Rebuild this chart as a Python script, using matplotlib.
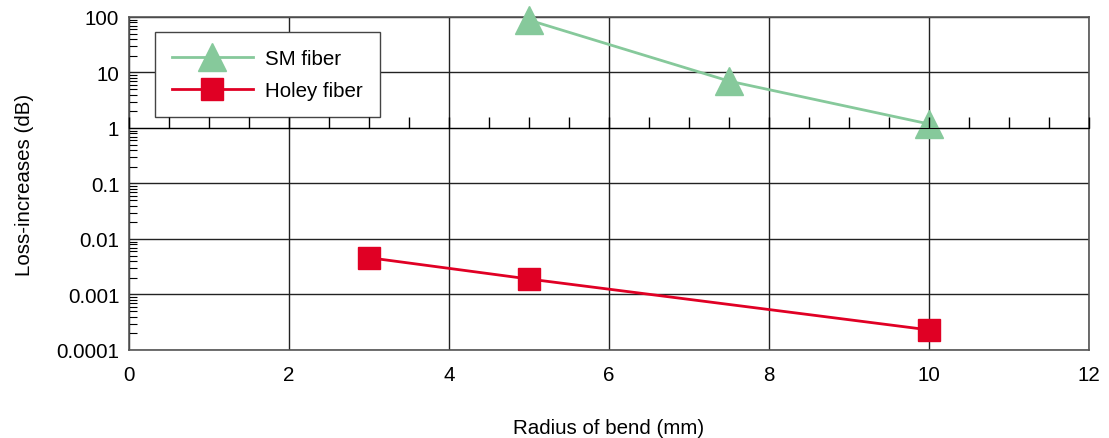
import numpy as np
import matplotlib.pyplot as plt
from matplotlib.ticker import MultipleLocator, LogLocator, NullFormatter

plt.rcParams['font.family'] = ['Liberation Sans', 'DejaVu Sans']

# data
sm_radius = [5, 7.5, 10]
sm_loss = [88, 7.0, 1.18]
holey_radius = [3, 5, 10]
holey_loss = [0.0046, 0.0019, 0.00023]

y_ticks = [1e-4, 1e-3, 1e-2, 1e-1, 1, 10, 100]
y_labels = ['0.0001', '0.001', '0.01', '0.1', '1', '10', '100']

fs = 14.8

fig = plt.figure(figsize=(11.09, 4.39), dpi=100)
ax = fig.add_axes([0.1163, 0.2005, 0.8657, 0.7585])

ax.plot(sm_radius, sm_loss, color='#86c99b', lw=2, marker='^', ms=20,
        label='SM fiber', zorder=5, clip_on=False)
ax.plot(holey_radius, holey_loss, color='#e00024', lw=2, marker='s', ms=16,
        label='Holey fiber', zorder=5, clip_on=False)

ax.set_yscale('log')
ax.set_xlim(0, 12)
ax.set_ylim(1e-4, 100)
ax.set_xticks(range(0, 13, 2))
ax.set_yticks(y_ticks)
ax.set_yticklabels(y_labels)
ax.yaxis.set_minor_locator(LogLocator(base=10, subs=np.arange(2, 10)))
ax.yaxis.set_minor_formatter(NullFormatter())
ax.tick_params(axis='x', length=0, pad=11, labelsize=fs)
ax.tick_params(axis='y', which='major', length=0, pad=7, labelsize=fs)
ax.tick_params(axis='y', which='minor', direction='in', length=6, width=0.8)
ax.grid(True, which='major', color='#222222', lw=1)

for s in ax.spines.values():
    s.set_color('#555555')
    s.set_linewidth(1.2)

ax.set_xlabel('Radius of bend (mm)', fontsize=fs, labelpad=24)
ax.set_ylabel('Loss-increases (dB)', fontsize=fs, labelpad=16)

# inner x axis along y = 1 with upward ticks
ax2 = ax.twiny()
ax2.set_xlim(0, 12)
ax2.xaxis.set_ticks_position('bottom')
ax2.spines['bottom'].set_position(('data', 1))
for k in ['top', 'left', 'right']:
    ax2.spines[k].set_visible(False)
ax2.spines['bottom'].set_color('black')
ax2.xaxis.set_major_locator(MultipleLocator(2))
ax2.xaxis.set_minor_locator(MultipleLocator(0.5))
ax2.xaxis.set_major_formatter(NullFormatter())
ax2.tick_params(axis='x', which='both', direction='in', length=8, width=1)

leg = ax.legend(loc='upper left', bbox_to_anchor=(0.027, 0.956), fontsize=fs,
                fancybox=False, edgecolor='#444444', framealpha=1,
                borderpad=0.85, labelspacing=0.62, handlelength=3.9,
                handletextpad=0.6, borderaxespad=0)
leg.get_frame().set_linewidth(1)
leg.set_zorder(10)

fig.savefig('out.png', dpi=100)
